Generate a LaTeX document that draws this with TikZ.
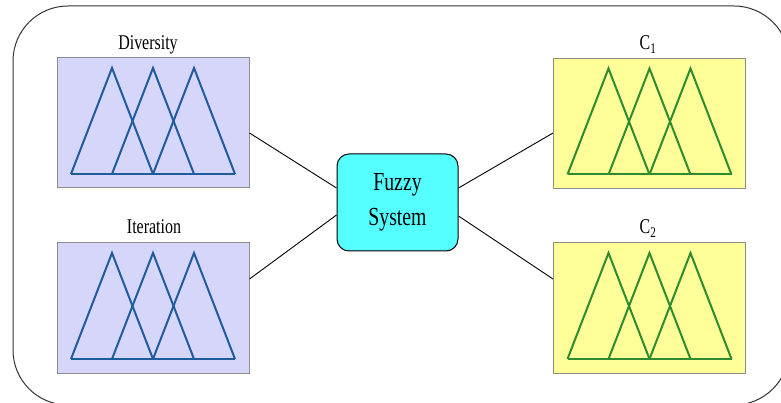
\documentclass[tikz,border=0pt]{standalone}
\usepackage{fontspec}
\setmainfont{Liberation Serif}[FakeStretch=0.76]

\definecolor{inboxfill}{HTML}{D6D6FA}
\definecolor{outboxfill}{HTML}{FFFF99}
\definecolor{corefill}{HTML}{55FFFF}
\definecolor{inmf}{HTML}{1F5C9E}
\definecolor{outmf}{HTML}{2E8B2E}
\definecolor{boxline}{HTML}{8C8C8C}
\definecolor{frameline}{HTML}{333333}

\tikzset{
  mfbox/.style={draw=boxline, line width=1pt, inner sep=0pt,
    minimum width=192pt, minimum height=130pt},
  inbox/.style={mfbox, fill=inboxfill},
  outbox/.style={mfbox, fill=outboxfill},
  varlabel/.style={anchor=base, inner sep=0pt, font=\fontsize{21}{25}\selectfont},
  corebox/.style={draw=black, line width=1pt, fill=corefill, rounded corners=12pt,
    minimum width=121pt, minimum height=97pt, align=center,
    font=\fontsize{26}{35}\selectfont},
  link/.style={draw=black, line width=0.9pt},
  mfline/.style={line width=2pt, line join=miter},
  % three overlapping triangular membership functions on a base line
  mfset/.pic={
    \draw[mfline] (-82,51) -- (82,51);
    \foreach \c in {-41,0,41}
      \draw[mfline] (\c-41,51) -- (\c,-55) -- (\c+41,51);
  }
}

\begin{document}
\begin{tikzpicture}[x=1pt,y=-1pt]
  \useasboundingbox (0,0) rectangle (781,403);
  \clip (0,0) rectangle (781,403);

  % surrounding frame
  \draw[frameline, line width=1pt, rounded corners=55pt] (13,6) rectangle (789,405);

  % input variables
  \node[inbox] (div) at (153,123) {};
  \pic[color=inmf] at (div.center) {mfset};
  \node[varlabel] (divlbl) at (148,50) {Diversity};

  \node[inbox] (iter) at (153,308) {};
  \pic[color=inmf] at (iter.center) {mfset};
  \node[varlabel] (iterlbl) at (154,234) {Iteration};

  % output variables
  \node[outbox] (c1) at (649.5,123.5) {};
  \pic[color=outmf] at (c1.center) {mfset};
  \node[varlabel] (c1lbl) at (648,50) {C\textsubscript{1}};

  \node[outbox] (c2) at (649.5,308) {};
  \pic[color=outmf] at (c2.center) {mfset};
  \node[varlabel] (c2lbl) at (648,234) {C\textsubscript{2}};

  % inference engine
  \node[corebox] (fz) at (397.5,202.5) {Fuzzy\\System};

  % connections
  \draw[link] ([yshift=-10pt]div.east) -- ([yshift=14.5pt]fz.west);
  \draw[link] ([yshift=29pt]iter.east) -- ([yshift=-12.5pt]fz.west);
  \draw[link] ([yshift=14.5pt]fz.east) -- ([yshift=-9.5pt]c1.west);
  \draw[link] ([yshift=-13.5pt]fz.east) -- ([yshift=29pt]c2.west);
\end{tikzpicture}
\end{document}
